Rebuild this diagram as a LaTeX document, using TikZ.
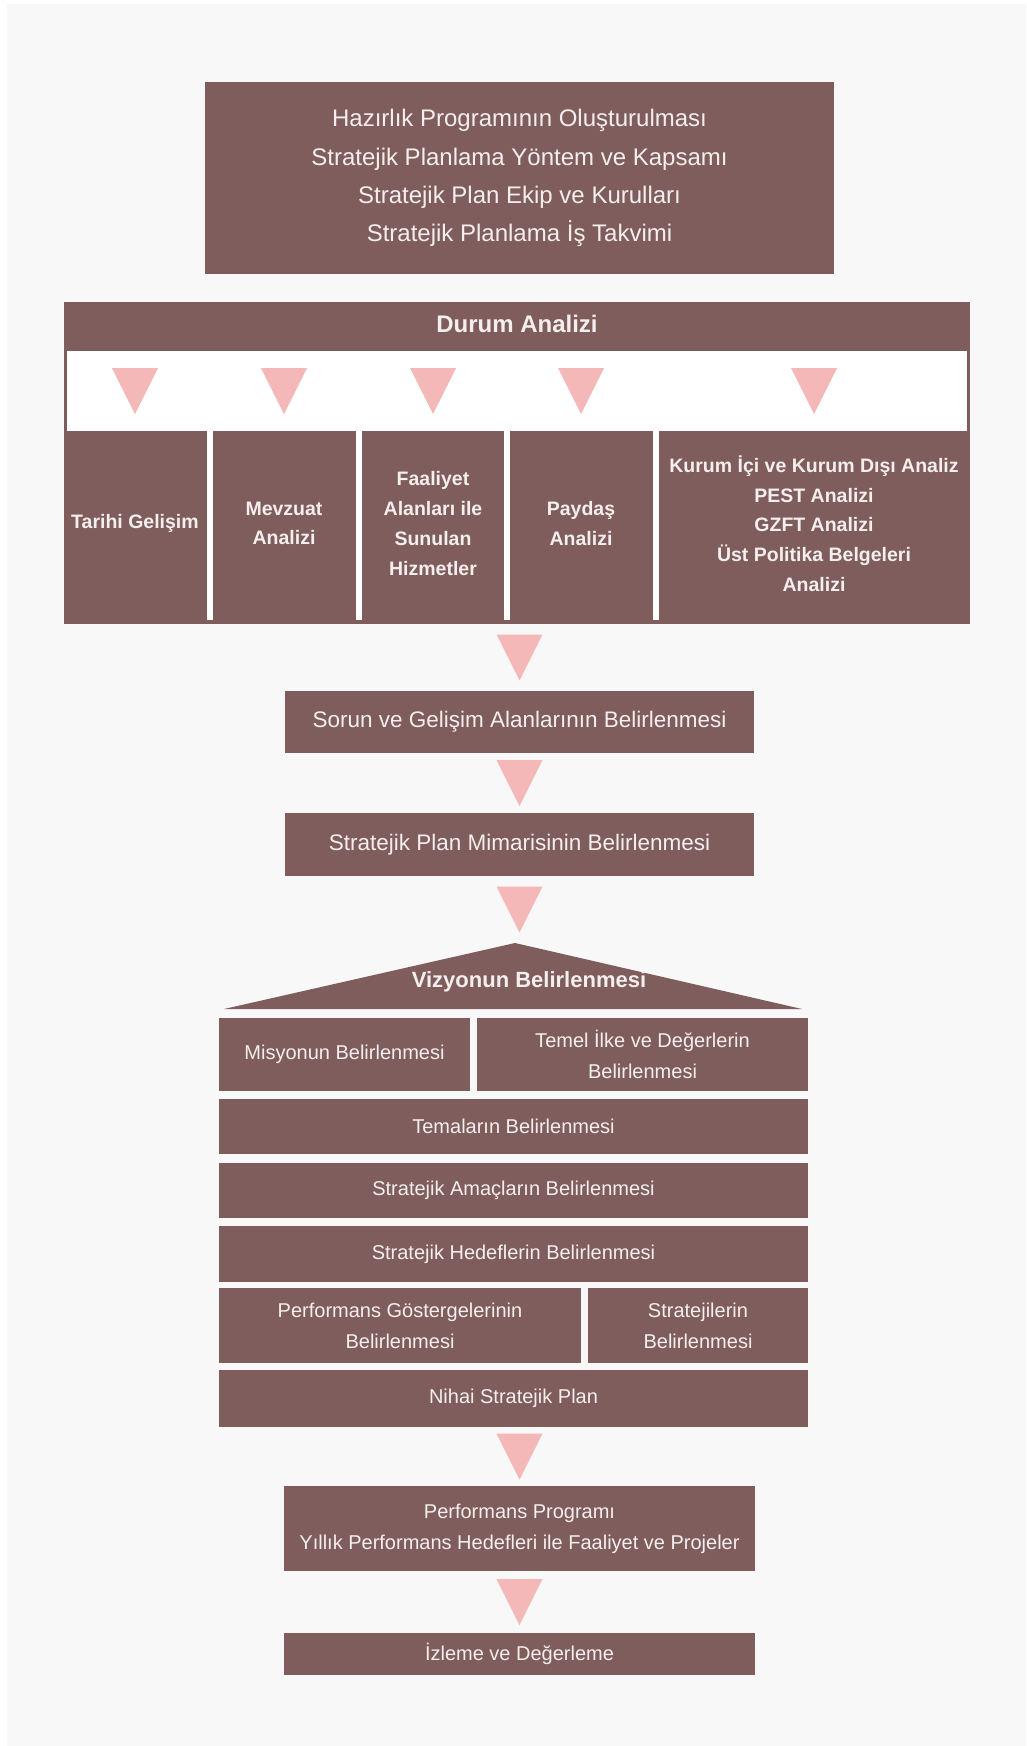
\documentclass[tikz,border=0pt]{standalone}
\usepackage{fontspec}
\setmainfont{Liberation Sans}
\usetikzlibrary{calc}
\definecolor{boxc}{HTML}{7F5D5C}
\definecolor{tric}{HTML}{F5B8B8}
\definecolor{bgc}{HTML}{F8F8F8}
\definecolor{txtc}{HTML}{F4EEEE}
\newcommand\downtri[1]{\fill[tric] ($(#1)+(-23,-23)$) -- ($(#1)+(23,-23)$) -- ($(#1)+(0,23)$) -- cycle;}
\begin{document}
\begin{tikzpicture}[x=1pt,y=-1pt,
  box/.style={fill=boxc,text=txtc,inner sep=0pt,outer sep=0pt,align=center},
  lbl/.style={text=txtc,inner sep=0pt,outer sep=0pt,align=center},
  bigf/.style={font=\fontsize{24}{38.3}\selectfont},
  midf/.style={font=\fontsize{22.5}{34}\selectfont},
  regf/.style={font=\fontsize{20}{31}\selectfont},
  colf/.style={font=\bfseries\fontsize{19.5}{29.7}\selectfont},
  hdrf/.style={font=\bfseries\fontsize{24}{30}\selectfont},
  visf/.style={font=\bfseries\fontsize{22}{30}\selectfont}]
\useasboundingbox (0,0) rectangle (1026,1746);
\fill[white] (0,0) rectangle (1026,1746);
\fill[bgc] (7,4) rectangle (1026,1746);

% top box
\node[box,bigf,minimum width=629pt,minimum height=192pt] (prep) at (519.5,178)
  {Hazırlık Programının Oluşturulması\\Stratejik Planlama Yöntem ve Kapsamı\\Stratejik Plan Ekip ve Kurulları\\Stratejik Planlama İş Takvimi};

% Durum Analizi block
\node[box,minimum width=906pt,minimum height=322pt] (durum) at (517,463) {};
\node[lbl,hdrf] (durumhdr) at (517,324) {Durum Analizi};
\node[fill=white,inner sep=0pt,outer sep=0pt,minimum width=900pt,minimum height=80pt] (strip) at (517,391) {};
\foreach \x in {209.5,358.5,507,655.5}
  \draw[white,line width=6pt] (\x,431) -- (\x,620);
\node[lbl,colf] (c1) at (135,523.5) {Tarihi Gelişim};
\node[lbl,colf] (c2) at (284,523.5) {Mevzuat\\Analizi};
\node[lbl,colf] (c3) at (433,523.5) {Faaliyet\\Alanları ile\\Sunulan\\Hizmetler};
\node[lbl,colf] (c4) at (581,523.5) {Paydaş\\Analizi};
\node[lbl,colf] (c5) at (814,523.5) {Kurum İçi ve Kurum Dışı Analiz\\PEST Analizi\\GZFT Analizi\\Üst Politika Belgeleri\\Analizi};
\foreach \c in {c1,c2,c3,c4,c5}{
  \coordinate (t\c) at (\c |- strip.center);
  \downtri{t\c}
}

% middle boxes
\node[box,midf,minimum width=469pt,minimum height=62pt] (sorun) at (519.5,722) {Sorun ve Gelişim Alanlarının Belirlenmesi};
\node[box,midf,minimum width=469pt,minimum height=63pt] (mimari) at (519.5,844.5) {Stratejik Plan Mimarisinin Belirlenmesi};

% house
\fill[boxc] (224,1009) coordinate (roofl) -- (515,943) coordinate (apex) -- (802,1009) coordinate (roofr) -- cycle;
\node[lbl,visf] (vizyon) at (529,982) {Vizyonun Belirlenmesi};
\node[box,regf,minimum width=251pt,minimum height=73pt] (misyon) at (344.5,1054.5) {Misyonun Belirlenmesi};
\node[box,regf,minimum width=331pt,minimum height=73pt] (temel) at (642.5,1054.5) {Temel İlke ve Değerlerin\\Belirlenmesi};
\node[box,regf,minimum width=589pt,minimum height=55pt] (temalar) at (513.5,1126.5) {Temaların Belirlenmesi};
\node[box,regf,minimum width=589pt,minimum height=55pt] (amaclar) at (513.5,1190.5) {Stratejik Amaçların Belirlenmesi};
\node[box,regf,minimum width=589pt,minimum height=56pt] (hedefler) at (513.5,1254) {Stratejik Hedeflerin Belirlenmesi};
\node[box,regf,minimum width=362pt,minimum height=75pt] (pg) at (400,1325.5) {Performans Göstergelerinin\\Belirlenmesi};
\node[box,regf,minimum width=220pt,minimum height=75pt] (strat) at (698,1325.5) {Stratejilerin\\Belirlenmesi};
\node[box,regf,minimum width=589pt,minimum height=57pt] (nihai) at (513.5,1398.5) {Nihai Stratejik Plan};

% bottom boxes
\node[box,regf,minimum width=471pt,minimum height=85pt] (perf) at (519.5,1528.5) {Performans Programı\\Yıllık Performans Hedefleri ile Faaliyet ve Projeler};
\node[box,regf,minimum width=471pt,minimum height=42pt] (izleme) at (519.5,1654) {İzleme ve Değerleme};

% connecting triangles
\coordinate (m1) at ($(durum.south)!0.5!(sorun.north)$);
\coordinate (a1) at (sorun.north |- m1);
\downtri{a1}
\coordinate (m2) at ($(sorun.south)!0.5!(mimari.north)$);
\downtri{m2}
\coordinate (m3) at ($(mimari.south)!0.5!(apex)$);
\coordinate (a3) at (mimari.south |- m3);
\downtri{a3}
\coordinate (m4) at ($(nihai.south)!0.5!(perf.north)$);
\coordinate (a4) at (perf.north |- m4);
\downtri{a4}
\coordinate (m5) at ($(perf.south)!0.5!(izleme.north)$);
\downtri{m5}
\end{tikzpicture}
\end{document}
